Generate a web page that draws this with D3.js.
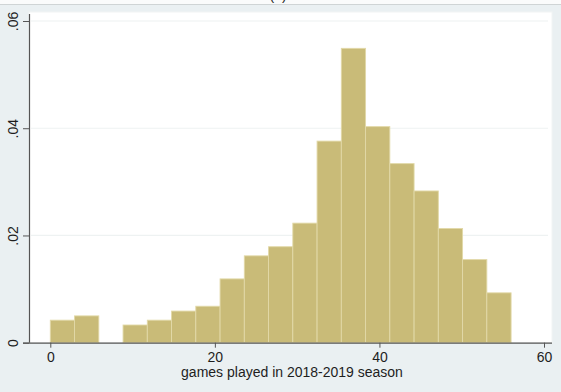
<!DOCTYPE html>
<html>
<head>
<meta charset="utf-8">
<script src="https://cdn.jsdelivr.net/npm/d3@7/dist/d3.min.js"></script>
<style>
html,body{margin:0;padding:0;background:#eaf0f2;}
svg{display:block;}
text{font-family:"Liberation Sans",Arial,Helvetica,sans-serif;fill:#1e1e1e;}
</style>
</head>
<body>
<svg id="chart" width="561" height="392"></svg>
<script>
// Histogram bins (games played), left edges; last bin ends at 56
const binEdges = [0, 2.947, 5.895, 8.842, 11.789, 14.737, 17.684, 20.632, 23.579, 26.526,
                  29.474, 32.421, 35.368, 38.316, 41.263, 44.211, 47.158, 50.105, 53.053, 56];
// Density per bin
const densities = [0.0042, 0.0050, 0, 0.0033, 0.0042, 0.0059, 0.0068, 0.0119, 0.0162, 0.0179,
                   0.0223, 0.0376, 0.0549, 0.0403, 0.0334, 0.0283, 0.0213, 0.0155, 0.0093];
const xTicks = [0, 20, 40, 60];
const yTicks = [0, 0.02, 0.04, 0.06];
const yTickLabels = ["0", ".02", ".04", ".06"];
const xTitle = "games played in 2018-2019 season";
const chartTitle = "(a)";

const bins = densities.map((d, i) => ({x0: binEdges[i], x1: binEdges[i + 1], d}));

const svg = d3.select("#chart");
const W = 561, H = 392;
const FS = 14;

// top strip and border
svg.append("rect").attr("x", 0).attr("y", 0).attr("width", W).attr("height", 4).attr("fill", "#fafbfb");
svg.append("line").attr("x1", 0).attr("x2", W).attr("y1", 4.5).attr("y2", 4.5)
  .attr("stroke", "#cfd4d5").attr("stroke-width", 1);

svg.append("text").attr("x", 278).attr("y", -0.5).attr("text-anchor", "middle")
  .attr("font-size", FS).text(chartTitle);

const x = d3.scaleLinear().domain([0, 60]).range([50.3, 544]);
const y = d3.scaleLinear().domain([0, 0.06]).range([342.7, 21]);

// plot region
const pr = {x0: 29, x1: 552, y0: 12, y1: 342.7};
svg.append("rect").attr("x", pr.x0).attr("y", pr.y0)
  .attr("width", pr.x1 - pr.x0).attr("height", pr.y1 - pr.y0)
  .attr("fill", "#ffffff").attr("stroke", "#f1f4f4").attr("stroke-width", 1);

// gridlines
svg.append("g").selectAll("line").data(yTicks.slice(1)).join("line")
  .attr("x1", pr.x0 + 2).attr("x2", pr.x1 - 4)
  .attr("y1", d => y(d)).attr("y2", d => y(d))
  .attr("stroke", "#eef2f2").attr("stroke-width", 1.2);

// bars
svg.append("g").selectAll("rect").data(bins.filter(b => b.d > 0)).join("rect")
  .attr("x", b => x(b.x0)).attr("width", b => x(b.x1) - x(b.x0))
  .attr("y", b => y(b.d)).attr("height", b => y(0) - y(b.d))
  .attr("fill", "#c9bb78").attr("stroke", "#e2d9a8").attr("stroke-width", 0.9);

// x axis
const xAxis = d3.axisBottom(x).tickValues(xTicks).tickSize(5).tickPadding(4).tickFormat(d3.format("d"));
const gx = svg.append("g").attr("transform", `translate(0,${pr.y1})`).call(xAxis);
gx.select(".domain").attr("d", `M${pr.x0 - 6},0.5H${pr.x1}`).attr("stroke", "#555").attr("stroke-width", 1.2);
gx.selectAll(".tick line").attr("stroke", "#555");
gx.selectAll(".tick text").attr("font-size", FS).attr("font-family", "Liberation Sans, Arial, sans-serif").attr("fill", "#1e1e1e");

// y axis
const yAxis = d3.axisLeft(y).tickValues(yTicks).tickSize(6).tickPadding(0).tickFormat((d, i) => yTickLabels[i]);
const gy = svg.append("g").attr("transform", `translate(${pr.x0},0)`).call(yAxis);
gy.select(".domain").attr("d", `M0.5,${pr.y0 + 2}V${pr.y1}`).attr("stroke", "#555").attr("stroke-width", 1.2);
gy.selectAll(".tick line").attr("stroke", "#555");
gy.selectAll(".tick text")
  .attr("font-size", FS).attr("font-family", "Liberation Sans, Arial, sans-serif").attr("fill", "#1e1e1e")
  .attr("x", null).attr("dy", null)
  .attr("text-anchor", "middle")
  .attr("transform", "translate(-16,0) rotate(-90)")
  .attr("y", 0).attr("dy", "0.35em");

// x title
svg.append("text").attr("x", 292).attr("y", 377).attr("text-anchor", "middle")
  .attr("font-size", FS).text(xTitle);
</script>
</body>
</html>
